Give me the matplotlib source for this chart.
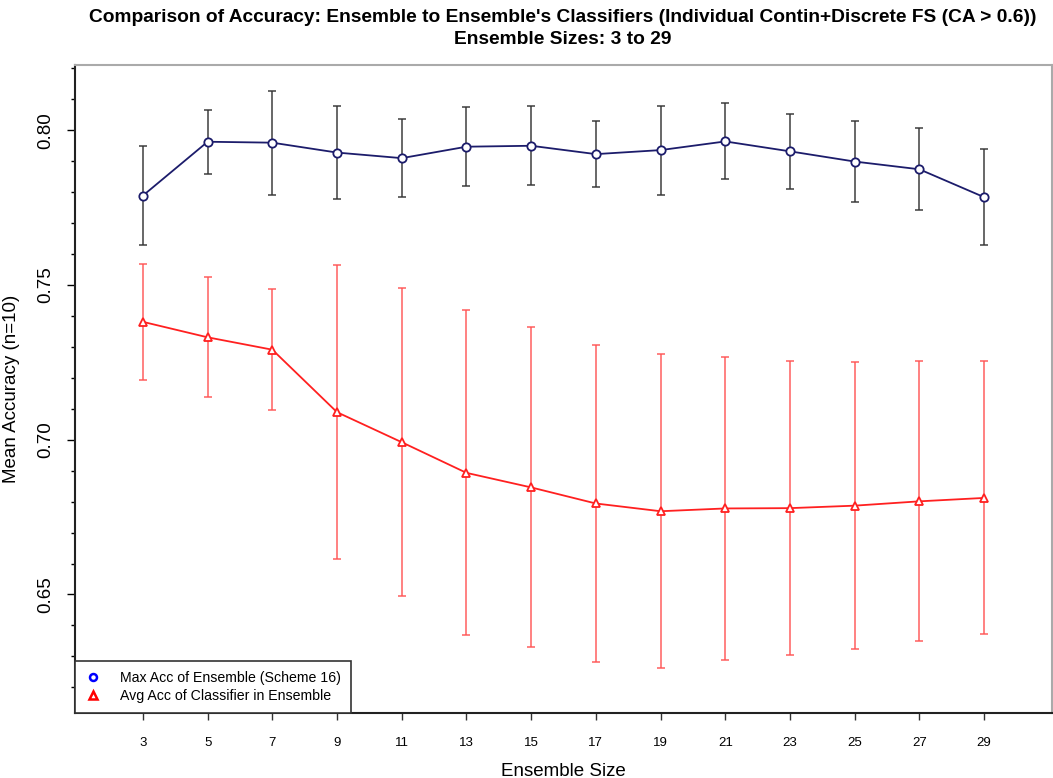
import matplotlib.pyplot as plt
import numpy as np

# ensemble sizes on the x axis
sizes = [3, 5, 7, 9, 11, 13, 15, 17, 19, 21, 23, 25, 27, 29]

# max accuracy of the ensemble (mean and sd over n=10 runs)
ens_mean = [0.7789, 0.7963, 0.7960, 0.7928, 0.7910, 0.7947, 0.7950,
            0.7923, 0.7936, 0.7964, 0.7932, 0.7899, 0.7874, 0.7784]
ens_sd = [0.0160, 0.0103, 0.0168, 0.0149, 0.0127, 0.0128, 0.0128,
          0.0107, 0.0144, 0.0123, 0.0121, 0.0132, 0.0133, 0.0155]

# average accuracy of the classifiers inside the ensemble
clf_mean = [0.7381, 0.7331, 0.7291, 0.7089, 0.6992, 0.6893, 0.6846,
            0.6794, 0.6769, 0.6778, 0.6779, 0.6787, 0.6801, 0.6812]
clf_sd = [0.0188, 0.0194, 0.0195, 0.0475, 0.0498, 0.0525, 0.0517,
          0.0511, 0.0507, 0.0490, 0.0476, 0.0464, 0.0452, 0.0441]

plt.rcParams['font.family'] = ['Liberation Sans', 'DejaVu Sans']

fig = plt.figure(figsize=(10.53, 7.78), dpi=100)
ax = fig.add_axes([75 / 1053, 65 / 778, 977 / 1053, 648 / 778])

# error bars first, then the lines with hollow markers on top
ax.errorbar(sizes, ens_mean, yerr=ens_sd, fmt='none', ecolor='#333333',
            alpha=0.8, elinewidth=1.3, capsize=3, capthick=1.3)
ax.errorbar(sizes, clf_mean, yerr=clf_sd, fmt='none', ecolor='#ff5555',
            alpha=0.8, elinewidth=1.3, capsize=3, capthick=1.3)

ax.plot(sizes, ens_mean, color='#1c1c6b', lw=1.3, marker='o', ms=6,
        mfc='white', mec='#1c1c6b', mew=1.3)
ax.plot(sizes, clf_mean, color='#ff2020', lw=1.3, marker='^', ms=6,
        mfc='white', mec='#ff2020', mew=1.3)

ax.set_xlim(0.9, 31.1)
ax.set_ylim(0.6117, 0.8211)
ax.set_xticks(sizes)
ax.set_xticklabels([str(s) for s in sizes], fontsize=9.5)
ax.set_yticks([0.65, 0.70, 0.75, 0.80])
ax.set_yticklabels(['0.65', '0.70', '0.75', '0.80'], fontsize=13.5,
                   rotation=90, va='center')
ax.set_yticks(np.arange(0.62, 0.825, 0.01), minor=True)
ax.tick_params(axis='x', length=5, width=1, pad=12, color='#333333')
ax.tick_params(axis='y', which='major', length=6, width=1, pad=9)
ax.tick_params(axis='y', which='minor', length=3, width=1)

for side in ['left', 'bottom']:
    ax.spines[side].set_color('#222222')
    ax.spines[side].set_linewidth(1.5)
for side in ['top', 'right']:
    ax.spines[side].set_color('#aaaaaa')
    ax.spines[side].set_linewidth(1.5)

ax.set_xlabel('Ensemble Size', fontsize=13.5, labelpad=10)
ax.set_ylabel('Mean Accuracy (n=10)', fontsize=13.5)
ax.yaxis.set_label_coords(-55 / 977, 0.5)

fig.text(563, 778 - 17, "Comparison of Accuracy: Ensemble to Ensemble's Classifiers "
         "(Individual Contin+Discrete FS (CA > 0.6))", ha='center', va='center',
         fontsize=13.8, fontweight='bold', transform=None)
fig.text(563, 778 - 40, 'Ensemble Sizes: 3 to 29', ha='center', va='center',
         fontsize=13.8, fontweight='bold', transform=None)

# legend entries use plain blue/red hollow markers
h1, = ax.plot([], [], ls='none', marker='o', ms=5, mfc='none', mec='blue', mew=1.8)
h2, = ax.plot([], [], ls='none', marker='^', ms=5.5, mfc='none', mec='red', mew=1.8)
leg = ax.legend([h1, h2], ['Max Acc of Ensemble (Scheme 16)',
                           'Avg Acc of Classifier in Ensemble'],
                loc='lower left', bbox_to_anchor=(0, 0), borderaxespad=0,
                fontsize=10.2, fancybox=False, framealpha=1, handletextpad=1.3,
                handlelength=1.2, labelspacing=0.3, borderpad=0.7)
leg.get_frame().set_edgecolor('#333333')
leg.get_frame().set_linewidth(1.2)

fig.savefig('out.png', dpi=100)
